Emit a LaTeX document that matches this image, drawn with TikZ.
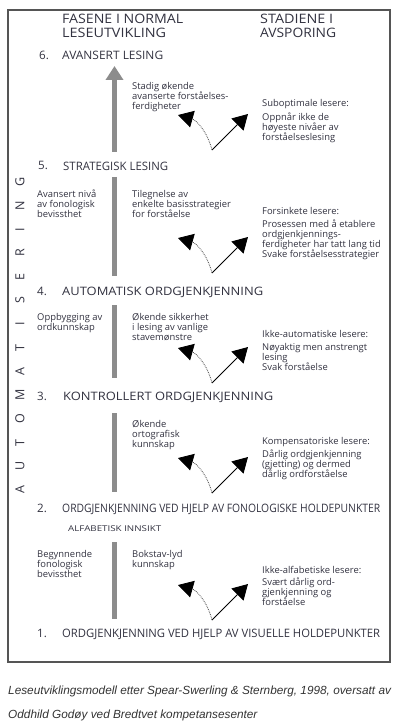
\documentclass[tikz,border=0pt]{standalone}
\usepackage{fontspec}
\setmainfont{Open Sans}
\newfontfamily\capfont{Liberation Sans}
\usepackage{graphicx}
\usetikzlibrary{arrows.meta}

\definecolor{txt}{RGB}{50,50,64}
\definecolor{bargray}{RGB}{140,140,140}
\definecolor{framegray}{RGB}{85,85,85}
\newcommand{\fitto}[2]{\resizebox{#1}{\height}{#2}}

\begin{document}
\begin{tikzpicture}[x=1pt, y=-1pt, every node/.style={inner sep=0pt, text=txt},
    colhead/.style={anchor=base west, align=left, font=\fontsize{13}{14}\selectfont},
    stage/.style={anchor=base west, font=\fontsize{11.6}{13}\selectfont},
    note/.style={anchor=base west, align=left, font=\fontsize{9.4}{10}\selectfont},
    bar/.style={draw=bargray, line width=4.2pt},
    tip/.style={draw=black, line width=1pt, -{Triangle[length=15pt,width=17pt]}},
    dots/.style={draw=black!75, densely dotted, line width=0.8pt, -{Triangle[length=15pt,width=17pt,black]}}]
  \useasboundingbox (0,0) rectangle (403,722);
  \draw[framegray, line width=1.2pt] (8,10) rectangle (390,662);
  % column heads (base = last line)
  \node[colhead] (hnorm) at (62,38) {\fitto{121pt}{FASENE I NORMAL}\\\fitto{104pt}{LESEUTVIKLING}};
  \node[colhead] (hdev) at (260,38) {\fitto{73pt}{STADIENE I}\\\fitto{76pt}{AVSPORING}};
  % stages
  \node[stage] (n6) at (39,60) {6.};
  \node[stage] (s6) at (62,60) {\fitto{101pt}{AVANSERT LESING}};
  \node[stage] (n5) at (38,170) {5.};
  \node[stage] (s5) at (63,170) {\fitto{105pt}{STRATEGISK LESING}};
  \node[stage] (n4) at (37,295) {4.};
  \node[stage] (s4) at (62,295) {\fitto{201pt}{AUTOMATISK ORDGJENKJENNING}};
  \node[stage] (n3) at (37,400) {3.};
  \node[stage] (s3) at (63,400) {\fitto{210pt}{KONTROLLERT ORDGJENKJENNING}};
  \node[stage] (n2) at (37,512) {2.};
  \node[stage] (s2) at (62,512) {\fitto{318pt}{ORDGJENKJENNING VED HJELP AV FONOLOGISKE HOLDEPUNKTER}};
  \node[stage, font=\fontsize{8}{10}\selectfont] (ins) at (68,531) {\fitto{93pt}{ALFABETISK INNSIKT}};
  \node[stage] (n1) at (37,637) {1.};
  \node[stage] (s1) at (62,637) {\fitto{318pt}{ORDGJENKJENNING VED HJELP AV VISUELLE HOLDEPUNKTER}};
  % gray arrow and bars
  \coordinate (g6) at (114.5,66);
  \coordinate (g5) at (114.5,152);
  \draw[bar, -{Triangle[length=14pt,width=17pt]}] (g5) -- (g6);
  \foreach \a/\b [count=\i] in {177/276,305/378,413/492,542/619} {
    \coordinate (bt\i) at (114.5,\a);
    \coordinate (bb\i) at (114.5,\b);
    \draw[bar] (bt\i) -- (bb\i);
  }
  % left column (base = last line)
  \node[note] (l5) at (37,217) {Avansert nivå\\av fonologisk\\bevissthet};
  \node[note] (l4) at (37,330) {Oppbygging av\\ordkunnskap};
  \node[note] (l2) at (37,577) {Begynnende\\fonologisk\\bevissthet};
  % middle column
  \node[note] (m6) at (132,110) {Stadig økende\\avanserte forståelses-\\ferdigheter};
  \node[note] (m5) at (132,217) {Tilegnelse av\\enkelte basisstrategier\\for forståelse};
  \node[note] (m4) at (132,340) {Økende sikkerhet\\i lesing av vanlige\\stavemønstre};
  \node[note] (m3) at (132,447) {Økende\\ortografisk\\kunnskap};
  \node[note] (m2) at (132,567) {Bokstav-lyd\\kunnskap};
  % right column
  \node[note] (r6) at (262,141) {Suboptimale lesere:\\[4pt]Oppnår ikke de\\høyeste nivåer av\\forståelseslesing};
  \node[note] (r5) at (262,257) {Forsinkete lesere:\\[3pt]Prosessen med å etablere\\ordgjenkjennings-\\ferdigheter har tatt lang tid\\Svake forståelsesstrategier};
  \node[note] (r4) at (262,370) {Ikke-automatiske lesere:\\[3pt]Nøyaktig men anstrengt\\lesing\\Svak forståelse};
  \node[note] (r3) at (262,477) {Kompensatoriske lesere:\\[3pt]Dårlig ordgjenkjenning\\(gjetting) og dermed\\dårlig ordforståelse};
  \node[note] (r2) at (262,605) {Ikke-alfabetiske lesere:\\[2pt]Svært dårlig ord-\\gjenkjenning og\\forståelse};
  % forks
  \foreach \y/\n in {150/6,273/5,383/4,493/3,620/2} {
    \coordinate (o\n) at (212,\y);
    \coordinate (up\n) at (248,\y-36);
    \coordinate (back\n) at (178,\y-35);
    \draw[tip] (o\n) -- (up\n);
    \draw[dots] (o\n) to[bend right=30] (back\n);
  }
  % side label
  \foreach \l [count=\i from 0] in {A,U,T,O,M,A,T,I,S,E,R,I,N,G}
    \node[rotate=90, font=\fontsize{12.5}{12}\selectfont] (auto\i) at (20,490-\i*23.7) {\l};
  % caption
  \node[anchor=base west, align=left, text=black!80, font=\capfont\itshape\fontsize{11.8}{24}\selectfont] (cap) at (8,718)
    {Leseutviklingsmodell etter Spear-Swerling \& Sternberg, 1998, oversatt av\\Oddhild Godøy ved Bredtvet kompetansesenter};
\end{tikzpicture}
\end{document}
